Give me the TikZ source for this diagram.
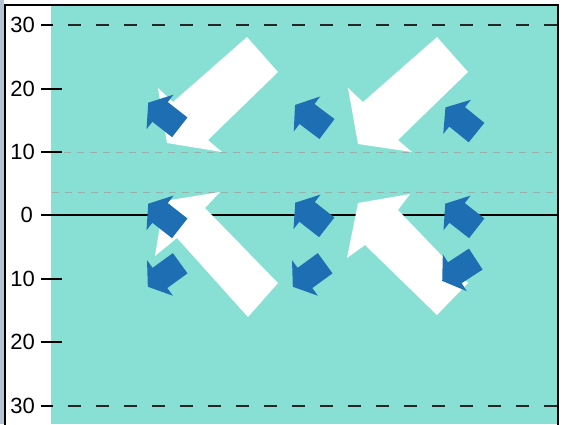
\documentclass[tikz,border=0pt]{standalone}
\usepackage{fontspec}
\setmainfont{Liberation Sans}
\definecolor{teal}{RGB}{136,224,212}
\definecolor{bluec}{RGB}{30,110,180}
\definecolor{grayd}{RGB}{150,176,172}
\definecolor{edgec}{RGB}{180,196,208}
\begin{document}
\begin{tikzpicture}[x=1pt,y=-1pt,
  lab/.style={anchor=east,font=\fontsize{22}{22}\selectfont,inner sep=0pt},
  tickln/.style={line width=1.5pt,black},
  bigdash/.style={line width=1.5pt,black!85,dash pattern=on 13pt off 15pt},
  smalldash/.style={line width=0.9pt,grayd,dash pattern=on 7pt off 6pt},
  whitearr/.style={fill=white},
  bluearr/.pic={\fill[bluec] (20,0) -- (5,22) -- (5,12.5) -- (-20,12.5) -- (-20,-12.5) -- (5,-12.5) -- (5,-22) -- cycle;}]
\useasboundingbox (0,0) rectangle (565,424);
% background and frame
\fill[white] (0,0) rectangle (565,424);
\fill[edgec] (0,0) rectangle (4,424);
\fill[teal] (51,6) rectangle (557,424);
\draw[line width=2pt,black] (5,430) -- (5,5) -- (558,5) -- (558,430);
% grid lines
\draw[bigdash] (68,25) -- (557,25);
\draw[bigdash] (68,406) -- (557,406);
\draw[smalldash] (64,152) -- (557,152);
\draw[smalldash] (52,192) -- (557,192);
\draw[line width=1.3pt,black] (41,215) -- (557,215);
% ticks
\draw[tickln] (41,25) -- (53,25);
\draw[tickln] (41,89) -- (62,89);
\draw[tickln] (41,152) -- (62,152);
\draw[tickln] (41,279) -- (62,279);
\draw[tickln] (41,342) -- (62,342);
\draw[tickln] (41,406) -- (53,406);
% labels
\node[lab] (l30a) at (35,25) {30};
\node[lab] (l20a) at (35,89) {20};
\node[lab] (l10a) at (35,152) {10};
\node[lab] (l0) at (33,215) {0};
\node[lab] (l10b) at (35,279) {10};
\node[lab] (l20b) at (35,342) {20};
\node[lab] (l30b) at (35,406) {30};
% white arrows
\fill[whitearr] (247,37) -- (278,72) -- (208,140) -- (222,152) -- (167,143) -- (158,88) -- (173,102) -- cycle;
\fill[whitearr] (437,37) -- (468,72) -- (398,140) -- (412,152) -- (358,144) -- (348,88) -- (363,102) -- cycle;
\fill[whitearr] (248,317) -- (278,283) -- (205,208) -- (220,192) -- (164,201) -- (155,256) -- (177,238) -- cycle;
\fill[whitearr] (437,315) -- (468,283) -- (398,210) -- (410,194) -- (358,203) -- (347,258) -- (365,245) -- cycle;
% blue arrows
\pic[rotate=142] at (164,115) {bluearr};
\pic[rotate=143] at (311,117) {bluearr};
\pic[rotate=141] at (461,120) {bluearr};
\pic[rotate=142] at (164,216) {bluearr};
\pic[rotate=142] at (311,215) {bluearr};
\pic[rotate=142] at (461,216) {bluearr};
\pic[rotate=216] at (164,275) {bluearr};
\pic[rotate=216] at (309,275) {bluearr};
\pic[rotate=213] at (459,270) {bluearr};
\end{tikzpicture}
\end{document}
